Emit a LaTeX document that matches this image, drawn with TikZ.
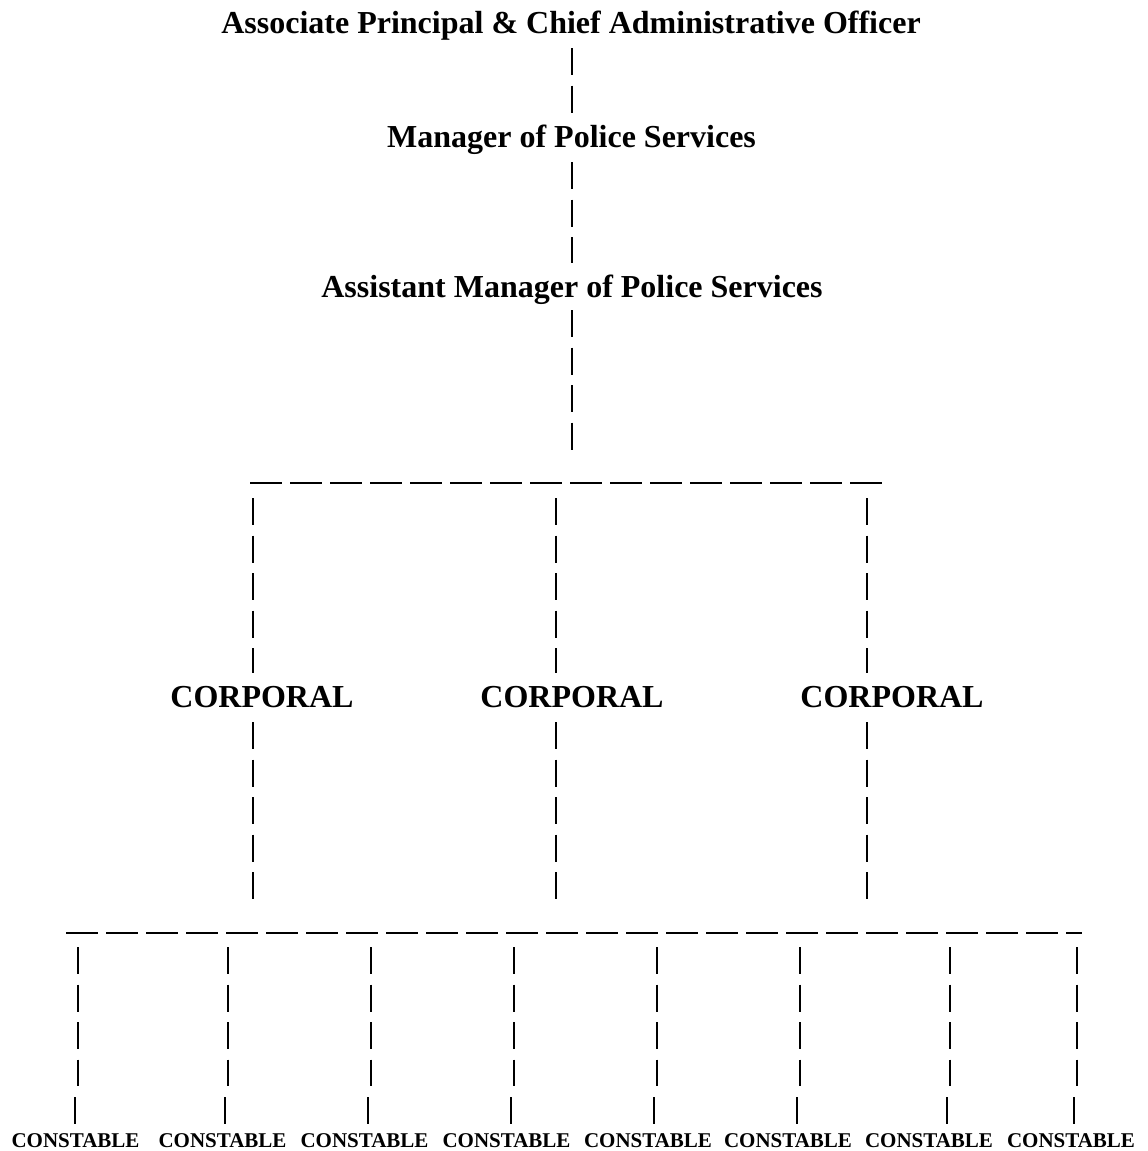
\documentclass[tikz,border=0pt]{standalone}
\usepackage{fontspec}
\setmainfont{Liberation Serif}
\begin{document}
\begin{tikzpicture}[x=1pt,y=-1pt,
  title/.style={font=\bfseries\fontsize{32}{36}\selectfont, anchor=base, inner sep=0pt},
  rank/.style={font=\bfseries\fontsize{21}{24}\selectfont, anchor=base, inner sep=0pt},
  vdash/.style={line width=2pt, dash pattern=on 27pt off 10.5pt},
  hdash/.style={line width=2pt, dash pattern=on 32pt off 8pt}]
\useasboundingbox (0,0) rectangle (1148,1151);
% titles
\node[title] (assoc) at (571,33) {Associate Principal \& Chief Administrative Officer};
\node[title] (mgr) at (571.5,147) {Manager of Police Services};
\node[title] (asst) at (572,297) {Assistant Manager of Police Services};
\node[title] (cp1) at (262,707) {CORPORAL};
\node[title] (cp2) at (572,707) {CORPORAL};
\node[title] (cp3) at (892,707) {CORPORAL};
\foreach \i/\x in {1/75.5,2/222.5,3/364.5,4/506.5,5/648,6/788,7/929,8/1071}
  \node[rank] (cs\i) at (\x,1147) {CONSTABLE};
% top chain
\coordinate (a1) at (571.5,48);  \coordinate (a2) at (571.5,113);
\coordinate (m1) at (571.5,162); \coordinate (m2) at (571.5,263);
\coordinate (s1) at (571.5,310); \coordinate (s2) at (571.5,450);
\draw[vdash] (a1) -- (a2);
\draw[vdash] (m1) -- (m2);
\draw[vdash] (s1) -- (s2);
% first bar
\coordinate (h1a) at (250,483); \coordinate (h1b) at (882,483);
\draw[hdash] (h1a) -- (h1b);
\foreach \i/\x in {1/253,2/556,3/867}{
  \coordinate (u\i) at (\x,498);
  \draw[vdash] (u\i) -- (u\i |- 0,673);
  \coordinate (l\i) at (\x,722);
  \draw[vdash] (l\i) -- (l\i |- 0,899);
}
% second bar
\coordinate (h2a) at (66,933); \coordinate (h2b) at (1082,933);
\draw[hdash] (h2a) -- (h2b);
\foreach \i/\x in {1/78,2/228,3/371,4/514,5/657,6/800,7/950,8/1077}{
  \coordinate (b\i) at (\x,947);
  \draw[vdash] (b\i) -- (b\i |- 0,1086);
  \coordinate (e\i) at (\x-3.5,1097);
  \draw[line width=2pt] (e\i) -- (e\i |- 0,1124);
}
\end{tikzpicture}
\end{document}
